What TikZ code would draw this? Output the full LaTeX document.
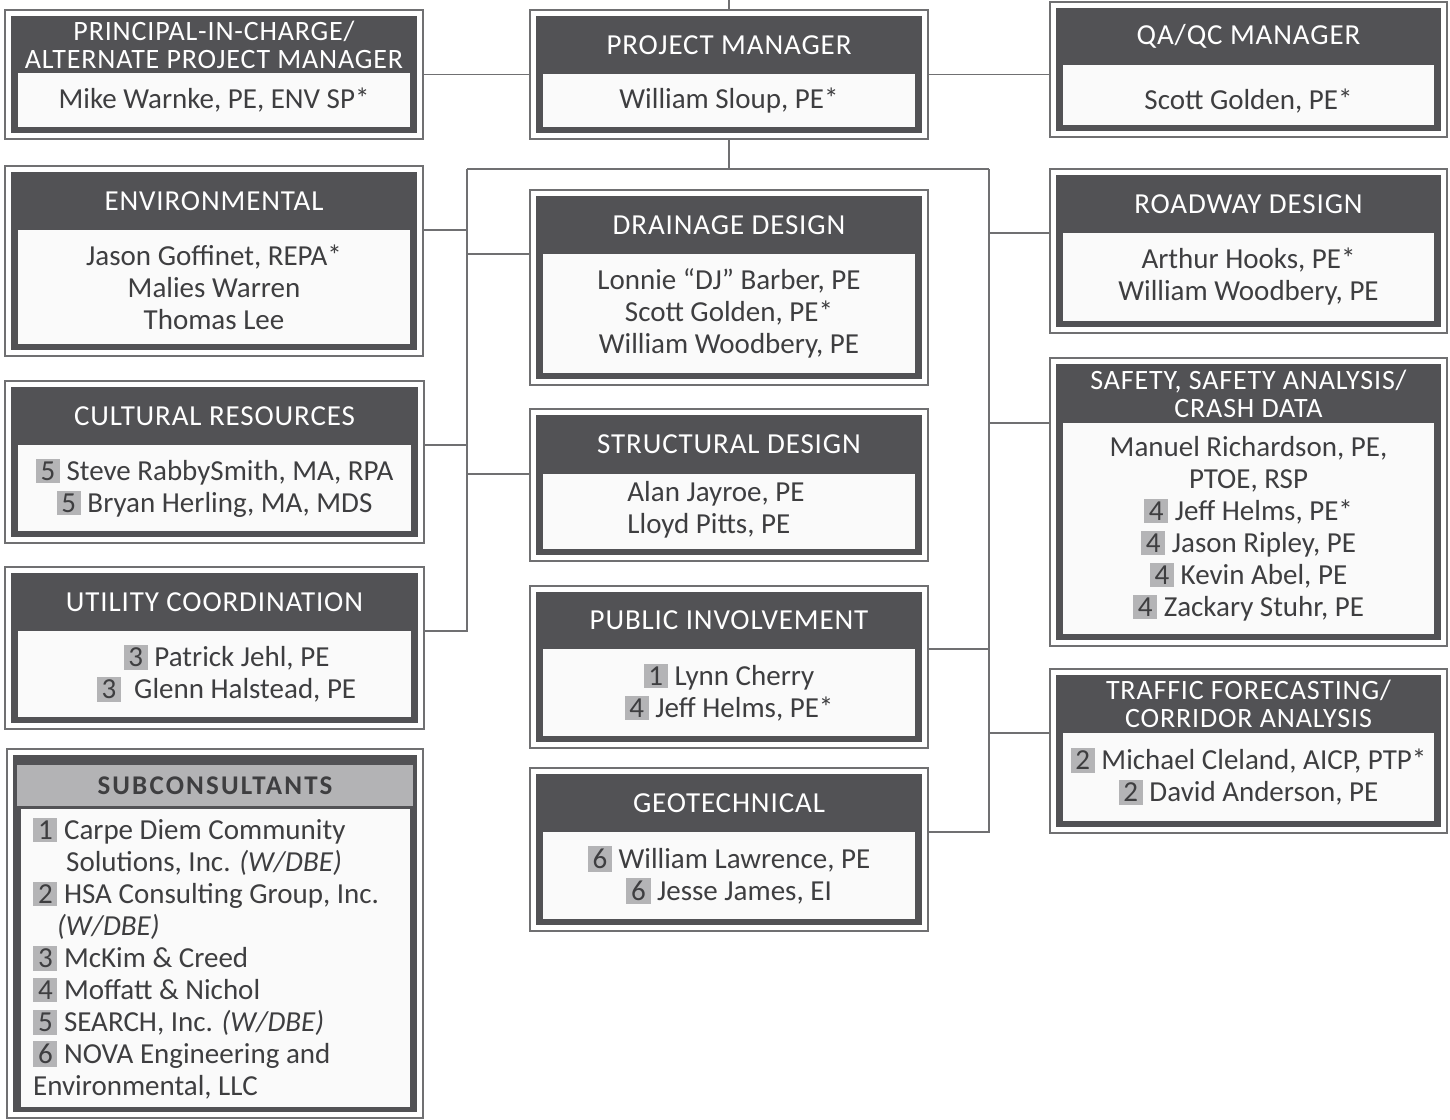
\documentclass[tikz,border=0pt]{standalone}
\usepackage{fontspec}
\setmainfont{Carlito}
\newfontfamily\headfont[LetterSpace=3]{Carlito}
\newfontfamily\subheadfont[LetterSpace=8]{Carlito}
\usetikzlibrary{calc}

\definecolor{frameGray}{RGB}{82,82,85}
\definecolor{lineGray}{RGB}{112,112,114}
\definecolor{innerFill}{RGB}{250,250,250}
\definecolor{badgeGray}{RGB}{180,180,182}
\definecolor{textGray}{RGB}{62,62,64}
\definecolor{subHeadFill}{RGB}{179,179,181}

\newcommand{\subnum}[1]{{\setlength{\fboxsep}{2.8pt}\colorbox{badgeGray}{\hspace{2pt}#1\hspace{2pt}}}}

% name, left, top, right, bottom, top of name field, title style, title, names
\newcommand{\orgbox}[9]{%
  \node[outerBox, minimum width={(#4-#2)*1pt}, minimum height={(#5-#3)*1pt}] (#1) at ({(#2+#4)/2},{(#3+#5)/2}) {};
  \fill[frameGray] ({#2+6},{#3+6}) rectangle ({#4-6},{#5-6});
  \node[#7] (#1-h) at ({(#2+#4)/2},{(#3+6+#6)/2}) {#8};
  \node[innerBox, minimum width={(#4-#2-26)*1pt}, minimum height={(#5-12-#6)*1pt}] (#1-c) at ({(#2+#4)/2},{(#6+#5-12)/2}) {#9};
}

\begin{document}
\begin{tikzpicture}[x=1pt, y=-1pt,
    outerBox/.style={draw=lineGray, line width=1.6pt, inner sep=0pt},
    innerBox/.style={fill=innerFill, inner sep=0pt, align=center, text=textGray, font=\fontsize{29}{32}\selectfont},
    headOne/.style={text=white, align=center, inner sep=0pt, font=\headfont\fontsize{29}{30}\selectfont},
    headTwo/.style={text=white, align=center, inner sep=0pt, font=\headfont\fontsize{28}{28}\selectfont},
    subHead/.style={text=textGray, inner sep=0pt, font=\subheadfont\bfseries\fontsize{27}{28}\selectfont},
    listText/.style={align=left, inner sep=0pt, anchor=north west, text=textGray, font=\fontsize{29}{32}\selectfont},
    link/.style={draw=lineGray, line width=1.6pt}]
  \useasboundingbox (0,0) rectangle (1450,1119);

  % left column
  \orgbox{pic}{5}{10}{423}{139}{73}{headTwo}{PRINCIPAL-IN-CHARGE/\\ALTERNATE PROJECT MANAGER}{Mike Warnke, PE, ENV SP*}
  \orgbox{env}{5}{166}{423}{356}{230}{headOne}{ENVIRONMENTAL}{Jason Goffinet, REPA*\\Malies Warren\\Thomas Lee}
  \orgbox{cult}{5}{381}{424}{543}{445}{headOne}{CULTURAL RESOURCES}{\subnum{5} Steve RabbySmith, MA, RPA\\\subnum{5} Bryan Herling, MA, MDS}
  \orgbox{util}{5}{567}{424}{729}{631}{headOne}{UTILITY COORDINATION}{\hspace*{24pt}\subnum{3} Patrick Jehl, PE\\\hspace*{24pt}\subnum{3}\ \ Glenn Halstead, PE}

  % middle column
  \orgbox{pm}{530}{10}{928}{139}{74}{headOne}{PROJECT MANAGER}{William Sloup, PE*}
  \orgbox{drain}{530}{190}{928}{385}{254}{headOne}{DRAINAGE DESIGN}{Lonnie “DJ” Barber, PE\\Scott Golden, PE*\\William Woodbery, PE}
  \orgbox{struct}{530}{409}{928}{561}{474}{headOne}{STRUCTURAL DESIGN}{\begin{tabular}{@{}l@{}}Alan Jayroe, PE\\Lloyd Pitts, PE\end{tabular}\hspace*{26pt}}
  \orgbox{pub}{530}{586}{928}{748}{649}{headOne}{PUBLIC INVOLVEMENT}{\subnum{1} Lynn Cherry\\\subnum{4} Jeff Helms, PE*}
  \orgbox{geo}{530}{768}{928}{931}{832}{headOne}{GEOTECHNICAL}{\subnum{6} William Lawrence, PE\\\subnum{6} Jesse James, EI}

  % right column
  \orgbox{qa}{1050}{2}{1447}{137}{65}{headOne}{QA/QC MANAGER}{\raisebox{-14pt}[0pt][0pt]{Scott Golden, PE*}}
  \orgbox{road}{1050}{169}{1447}{333}{233}{headOne}{ROADWAY DESIGN}{Arthur Hooks, PE*\\William Woodbery, PE}
  \orgbox{safe}{1050}{358}{1447}{646}{423}{headTwo}{SAFETY, SAFETY ANALYSIS/\\CRASH DATA}{Manuel Richardson, PE,\\PTOE, RSP\\\subnum{4} Jeff Helms, PE*\\\subnum{4} Jason Ripley, PE\\\subnum{4} Kevin Abel, PE\\\subnum{4} Zackary Stuhr, PE}
  \orgbox{traf}{1050}{669}{1447}{833}{733}{headTwo}{TRAFFIC FORECASTING/\\CORRIDOR ANALYSIS}{\subnum{2} Michael Cleland, AICP, PTP*\\\subnum{2} David Anderson, PE}

  % subconsultants
  \node[outerBox, minimum width=416pt, minimum height=369pt] (subs) at (215,933.5) {};
  \fill[frameGray] (13,755) rectangle (417,1112);
  \fill[subHeadFill] (17,765) rectangle (413,806);
  \node[subHead] (subs-h) at (215,786) {SUBCONSULTANTS};
  \node[fill=innerFill, inner sep=0pt, minimum width=389pt, minimum height=298pt] (subs-c) at (215.5,958) {};
  \node[listText] (subs-list) at (33,818) {\subnum{1} Carpe Diem Community\\
    \hspace*{33pt}Solutions, Inc. \textit{(W/DBE)}\\
    \subnum{2} HSA Consulting Group, Inc.\\
    \hspace*{24pt}\textit{(W/DBE)}\\
    \subnum{3} McKim \& Creed\\
    \subnum{4} Moffatt \& Nichol\\
    \subnum{5} SEARCH, Inc. \textit{(W/DBE)}\\
    \subnum{6} NOVA Engineering and\\
    Environmental, LLC};

  % connectors
  \coordinate (top) at (729,0);
  \coordinate (bus) at (729,169);
  \coordinate (lbus) at (467,169);
  \coordinate (rbus) at (989,169);
  \draw[link] (top) -- (pm.north);
  \draw[link] (pic.east |- pm.west) -- (pm.west);
  \draw[link] (pm.east) -- (qa.west |- pm.east);
  \draw[link] (pm.south) -- (bus);
  \draw[link] (lbus) -- (rbus);
  \draw[link] (lbus) -- (lbus |- util-c.north) -- (util.east |- util-c.north);
  \draw[link] (rbus) -- (rbus |- geo-c.north) -- (geo.east |- geo-c.north);
  \draw[link] (env.east |- env-c.north) -- (lbus |- env-c.north);
  \draw[link] (cult.east |- cult-c.north) -- (lbus |- cult-c.north);
  \draw[link] (lbus |- drain-c.north) -- (drain.west |- drain-c.north);
  \draw[link] (lbus |- struct-c.north) -- (struct.west |- struct-c.north);
  \draw[link] (rbus |- road-c.north) -- (road.west |- road-c.north);
  \draw[link] (rbus |- safe-c.north) -- (safe.west |- safe-c.north);
  \draw[link] (rbus |- traf-c.north) -- (traf.west |- traf-c.north);
  \draw[link] (pub.east |- pub-c.north) -- (rbus |- pub-c.north);
\end{tikzpicture}
\end{document}
